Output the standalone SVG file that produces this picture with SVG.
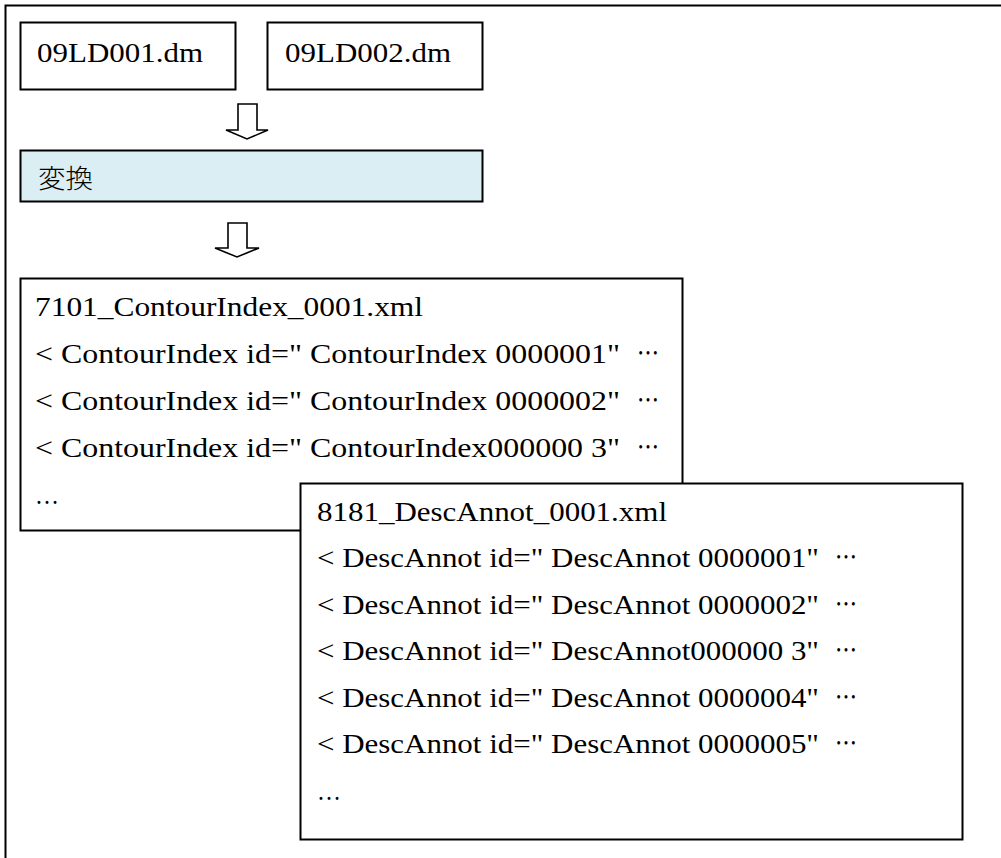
<svg xmlns="http://www.w3.org/2000/svg" width="1001" height="858" viewBox="0 0 1001 858">
  <style>
    .frame { fill: none; stroke: #000; stroke-width: 2; }
    .box { fill: #fff; stroke: #000; stroke-width: 2; }
    .step { fill: #daeef3; stroke: #000; stroke-width: 2; }
    .arrow { fill: #fff; stroke: #000; stroke-width: 1.6; stroke-linejoin: miter; }
    .t { font-family: "Liberation Serif", "Noto Sans CJK JP", serif; font-size: 27px; fill: #000; }
    .jp { font-family: "Noto Sans CJK JP", "Liberation Serif", serif; font-size: 26px; font-weight: 300; fill: #000; }
  </style>

  <!-- outer page frame (open at the bottom and right) -->
  <path class="frame" d="M5.5,858 V5.5 H1001"/>

  <!-- input files -->
  <g id="file-09LD001">
    <rect class="box" x="20.5" y="22.5" width="215" height="67"/>
    <text class="t" x="37" y="62" textLength="166" lengthAdjust="spacingAndGlyphs">09LD001.dm</text>
  </g>
  <g id="file-09LD002">
    <rect class="box" x="267.5" y="22.5" width="215" height="67"/>
    <text class="t" x="285" y="62" textLength="166" lengthAdjust="spacingAndGlyphs">09LD002.dm</text>
  </g>

  <!-- conversion step -->
  <g id="convert">
    <rect class="step" x="20.5" y="150.5" width="462" height="51"/>
    <text class="jp" x="38" y="188" textLength="55" lengthAdjust="spacingAndGlyphs">変換</text>
  </g>

  <!-- block arrows between stages -->
  <g id="connectors">
    <path class="arrow" d="M238,104 H257 V130 H268 L247,139 L226,130 H238 Z"/>
    <path class="arrow" d="M228,223 H247 V248 H259 L237,257 L215,248 H228 Z"/>
  </g>

  <!-- output: contour index file -->
  <g id="out-contourindex">
    <rect class="box" x="20.5" y="278.5" width="662" height="252"/>
    <text class="t" x="35" y="316" textLength="388" lengthAdjust="spacingAndGlyphs">7101_ContourIndex_0001.xml</text>
    <text class="t" x="35" y="363" textLength="585" lengthAdjust="spacingAndGlyphs">&lt; ContourIndex id=" ContourIndex 0000001"</text>
    <text class="t" x="637" y="363" textLength="22" lengthAdjust="spacingAndGlyphs">⋯</text>
    <text class="t" x="35" y="410" textLength="585" lengthAdjust="spacingAndGlyphs">&lt; ContourIndex id=" ContourIndex 0000002"</text>
    <text class="t" x="637" y="410" textLength="22" lengthAdjust="spacingAndGlyphs">⋯</text>
    <text class="t" x="35" y="457" textLength="585" lengthAdjust="spacingAndGlyphs">&lt; ContourIndex id=" ContourIndex000000 3"</text>
    <text class="t" x="637" y="457" textLength="22" lengthAdjust="spacingAndGlyphs">⋯</text>
    <text class="t" x="35" y="504" textLength="24" lengthAdjust="spacingAndGlyphs">…</text>
  </g>

  <!-- output: descriptive annotation file -->
  <g id="out-descannot">
    <rect class="box" x="300.5" y="483.5" width="662" height="356"/>
    <text class="t" x="317" y="521" textLength="350" lengthAdjust="spacingAndGlyphs">8181_DescAnnot_0001.xml</text>
    <text class="t" x="317" y="567" textLength="502" lengthAdjust="spacingAndGlyphs">&lt; DescAnnot id=" DescAnnot 0000001"</text>
    <text class="t" x="835" y="567" textLength="22" lengthAdjust="spacingAndGlyphs">⋯</text>
    <text class="t" x="317" y="614" textLength="502" lengthAdjust="spacingAndGlyphs">&lt; DescAnnot id=" DescAnnot 0000002"</text>
    <text class="t" x="835" y="614" textLength="22" lengthAdjust="spacingAndGlyphs">⋯</text>
    <text class="t" x="317" y="660" textLength="502" lengthAdjust="spacingAndGlyphs">&lt; DescAnnot id=" DescAnnot000000 3"</text>
    <text class="t" x="835" y="660" textLength="22" lengthAdjust="spacingAndGlyphs">⋯</text>
    <text class="t" x="317" y="707" textLength="502" lengthAdjust="spacingAndGlyphs">&lt; DescAnnot id=" DescAnnot 0000004"</text>
    <text class="t" x="835" y="707" textLength="22" lengthAdjust="spacingAndGlyphs">⋯</text>
    <text class="t" x="317" y="753" textLength="502" lengthAdjust="spacingAndGlyphs">&lt; DescAnnot id=" DescAnnot 0000005"</text>
    <text class="t" x="835" y="753" textLength="22" lengthAdjust="spacingAndGlyphs">⋯</text>
    <text class="t" x="317" y="800" textLength="24" lengthAdjust="spacingAndGlyphs">…</text>
  </g>
</svg>
